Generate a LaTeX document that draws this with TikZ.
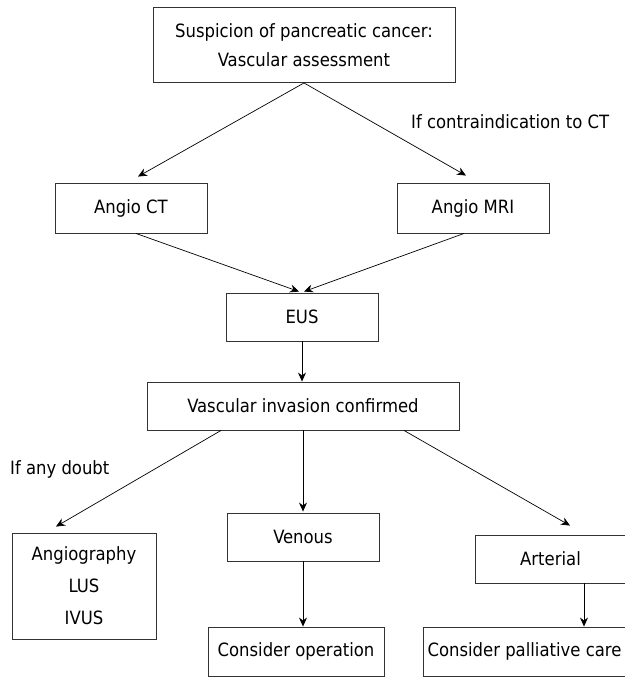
\documentclass[tikz,border=0pt]{standalone}
\usepackage{fontspec}
\setmainfont{DejaVu Sans Condensed}
\usetikzlibrary{arrows.meta,calc}
\begin{document}
\begin{tikzpicture}[x=1pt,y=-1pt,
  box/.style={draw=black!80, line width=0.9pt, inner sep=0pt, align=center,
    font=\fontsize{18.3}{29}\selectfont},
  lbl/.style={inner sep=0pt, font=\fontsize{18.3}{29}\selectfont},
  arr/.style={-{Stealth[length=9pt,width=8pt,inset=3pt]}, line width=0.7pt}]
\useasboundingbox (0,0) rectangle (624,677);

\node[box, minimum width=302pt, minimum height=75pt] (top) at (304,45)
  {Suspicion of pancreatic cancer:\\Vascular assessment};
\node[box, minimum width=152pt, minimum height=50pt] (ct) at (131,208) {Angio CT};
\node[box, minimum width=152pt, minimum height=50pt] (mri) at (473,208) {Angio MRI};
\node[box, minimum width=152pt, minimum height=48pt] (eus) at (302,317) {EUS};
\node[box, minimum width=312pt, minimum height=48pt] (vasc) at (303,406) {Vascular invasion confirmed};
\node[box, minimum width=144pt, minimum height=106pt,
  font=\fontsize{18.3}{32}\selectfont] (angio) at (84,586) {Angiography\\LUS\\IVUS};
\node[box, minimum width=152pt, minimum height=48pt] (venous) at (303,537) {Venous};
\node[box, minimum width=151pt, minimum height=48pt] (arterial) at (550.5,559) {Arterial};
\node[box, minimum width=176pt, minimum height=49pt] (op) at (296,651.5) {Consider operation};
\node[box, minimum width=203pt, minimum height=49pt] (pall) at (524.5,651.5) {Consider palliative care};

\node[lbl, anchor=west] (lab1) at (411,122) {If contraindication to CT};
\node[lbl, anchor=west] (lab2) at (10,469) {If any doubt};

\draw[arr] (top.south) -- ($(ct.north)+(7,-6)$);
\draw[arr] (top.south) -- ($(mri.north)+(-7,-7)$);
\draw[arr] ($(ct.south)+(5,0)$) -- ($(eus.north)+(-3,-1)$);
\draw[arr] ($(mri.south)+(-9,0)$) -- ($(eus.north)+(2,-1)$);
\draw[arr] (eus.south) -- (eus.south |- vasc.north);
\draw[arr] ($(vasc.south)+(-82,0)$) -- ($(angio.north)+(-28,-6)$);
\draw[arr] (vasc.south) -- ($(venous.north)+(0,-1)$);
\draw[arr] ($(vasc.south)+(101,0)$) -- ($(arterial.north)+(19.5,-9)$);
\draw[arr] (venous.south) -- (venous.south |- op.north);
\draw[arr] ($(arterial.south)+(33.5,0)$) coordinate (as) -- (as |- pall.north);
\end{tikzpicture}
\end{document}
